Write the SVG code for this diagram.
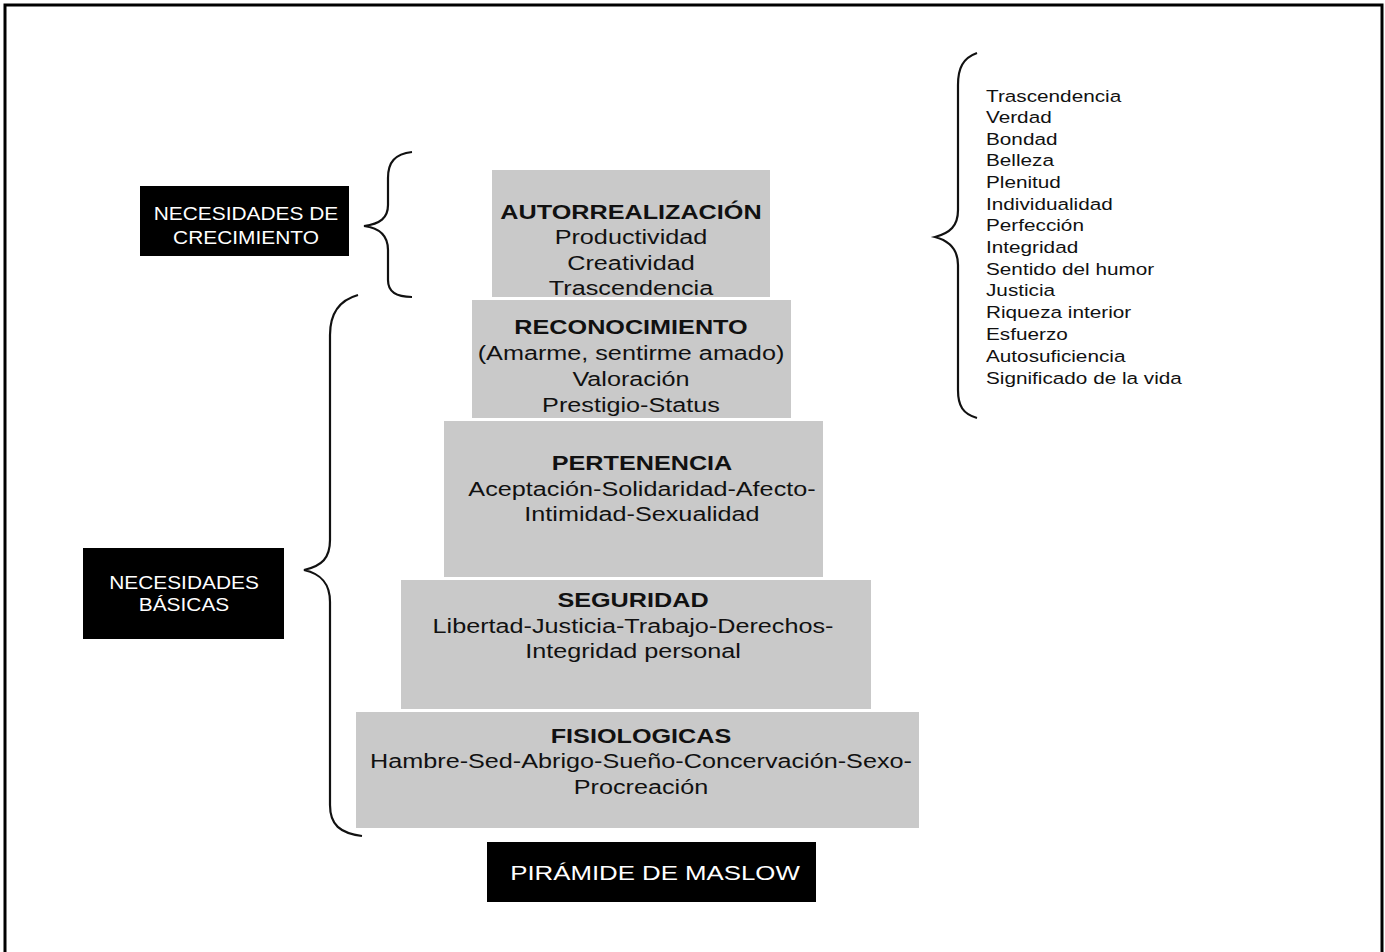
<svg xmlns="http://www.w3.org/2000/svg" width="1385" height="952" viewBox="0 0 1385 952">
<style>
.lvl{fill:#c9c9c9;}
.blk{fill:#000;}
.t{font-family:"Liberation Sans",Arial,sans-serif;fill:#111;text-anchor:middle;font-size:21px;}
.h{font-weight:bold;}
.w{font-family:"Liberation Sans",Arial,sans-serif;fill:#fff;text-anchor:middle;font-size:18.5px;}
.l{font-family:"Liberation Sans",Arial,sans-serif;fill:#111;font-size:17px;}
.br{fill:none;stroke:#111;stroke-width:2.2;}
</style>
<rect x="0" y="0" width="1385" height="952" fill="#fff"/>
<rect x="5" y="5" width="1377" height="970" fill="none" stroke="#000" stroke-width="3"/>
<g id="connectors">
<path class="br" d="M412,152 C395,154 388,162 388,178 L388,205 C388,218 380,224 364,226 C380,228 388,236 388,250 L388,280 C388,292 396,297 412,297"/>
<path class="br" d="M358,295 C340,300 330,312 330,335 L330,540 C330,558 322,566 304,570 C322,574 330,584 330,602 L330,805 C330,825 340,833 362,836"/>
<path class="br" d="M977,53 C963,58 958,68 958,85 L958,210 C958,226 950,233 935,237 C950,241 958,250 958,265 L958,390 C958,406 963,414 977,418"/>
</g>
<g id="growth">
<rect class="blk" x="140" y="186" width="209" height="70"/>
<g transform="matrix(1.13,0,0,1,-31.98,0)">
<text class="w" x="246" y="220">NECESIDADES DE</text>
<text class="w" x="246" y="244">CRECIMIENTO</text>
</g>
</g>
<g id="basic">
<rect class="blk" x="83" y="548" width="201" height="91"/>
<g transform="matrix(1.13,0,0,1,-23.92,0)">
<text class="w" x="184" y="589">NECESIDADES</text>
<text class="w" x="184" y="611">BÁSICAS</text>
</g>
</g>
<g id="autorrealizacion">
<rect class="lvl" x="492" y="170" width="278" height="127"/>
<g transform="matrix(1.2,0,0,1,-126.2,0)">
<text class="t h" x="631" y="219">AUTORREALIZACIÓN</text>
<text class="t" x="631" y="244">Productividad</text>
<text class="t" x="631" y="270">Creatividad</text>
<text class="t" x="631" y="295">Trascendencia</text>
</g>
</g>
<g id="reconocimiento">
<rect class="lvl" x="472" y="300" width="319" height="118"/>
<g transform="matrix(1.2,0,0,1,-126.2,0)">
<text class="t h" x="631" y="334">RECONOCIMIENTO</text>
<text class="t" x="631" y="360">(Amarme, sentirme amado)</text>
<text class="t" x="631" y="386">Valoración</text>
<text class="t" x="631" y="412">Prestigio-Status</text>
</g>
</g>
<g id="pertenencia">
<rect class="lvl" x="444" y="421" width="379" height="156"/>
<g transform="matrix(1.2,0,0,1,-128.4,0)">
<text class="t h" x="642" y="470">PERTENENCIA</text>
<text class="t" x="642" y="496">Aceptación-Solidaridad-Afecto-</text>
<text class="t" x="642" y="521">Intimidad-Sexualidad</text>
</g>
</g>
<g id="seguridad">
<rect class="lvl" x="401" y="580" width="470" height="129"/>
<g transform="matrix(1.2,0,0,1,-126.6,0)">
<text class="t h" x="633" y="607">SEGURIDAD</text>
<text class="t" x="633" y="633">Libertad-Justicia-Trabajo-Derechos-</text>
<text class="t" x="633" y="658">Integridad personal</text>
</g>
</g>
<g id="fisiologicas">
<rect class="lvl" x="356" y="712" width="563" height="116"/>
<g transform="matrix(1.2,0,0,1,-128.2,0)">
<text class="t h" x="641" y="743">FISIOLOGICAS</text>
<text class="t" x="641" y="768">Hambre-Sed-Abrigo-Sueño-Concervación-Sexo-</text>
<text class="t" x="641" y="794">Procreación</text>
</g>
</g>
<g id="titulo">
<rect class="blk" x="487" y="842" width="329" height="60"/>
<text class="w" x="655" y="880" style="font-size:21px" transform="matrix(1.23,0,0,1,-150.65,0)">PIRÁMIDE DE MASLOW</text>
</g>
<g id="valores" transform="matrix(1.22,0,0,1,-216.92,0)">
<text class="l" x="986" y="102">Trascendencia</text>
<text class="l" x="986" y="123">Verdad</text>
<text class="l" x="986" y="145">Bondad</text>
<text class="l" x="986" y="166">Belleza</text>
<text class="l" x="986" y="188">Plenitud</text>
<text class="l" x="986" y="210">Individualidad</text>
<text class="l" x="986" y="231">Perfección</text>
<text class="l" x="986" y="253">Integridad</text>
<text class="l" x="986" y="275">Sentido del humor</text>
<text class="l" x="986" y="296">Justicia</text>
<text class="l" x="986" y="318">Riqueza interior</text>
<text class="l" x="986" y="340">Esfuerzo</text>
<text class="l" x="986" y="362">Autosuficiencia</text>
<text class="l" x="986" y="384">Significado de la vida</text>
</g>
</svg>
